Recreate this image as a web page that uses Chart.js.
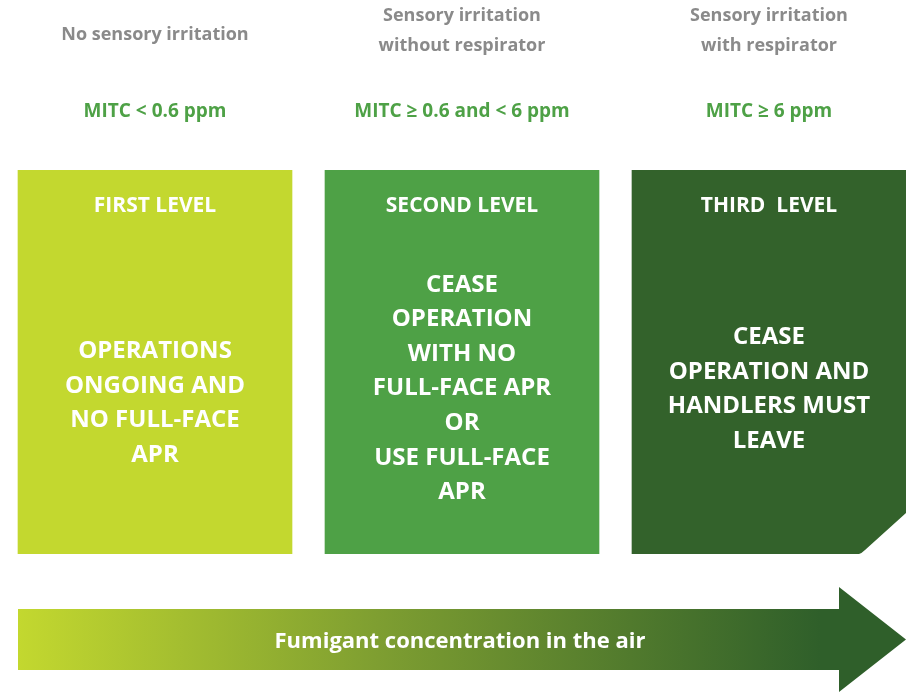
<!DOCTYPE html>
<html>
<head>
<meta charset="utf-8">
<script src="https://cdn.jsdelivr.net/npm/chart.js@4/dist/chart.umd.min.js"></script>
<style>
  html, body { margin: 0; padding: 0; background: #ffffff; overflow: hidden; width: 906px; height: 693px; }
  #wrap { position: relative; width: 906px; height: 693px; overflow: hidden; }
  canvas { display: block; }
</style>
</head>
<body>
<div id="wrap"><canvas id="c" width="924" height="693"></canvas></div>
<script>
// ---- data ----
const levels = ["FIRST LEVEL", "SECOND LEVEL", "THIRD  LEVEL"];
const conditions = [
  ["No sensory irritation"],
  ["Sensory irritation", "without respirator"],
  ["Sensory irritation", "with respirator"]
];
const thresholds = ["MITC < 0.6 ppm", "MITC \u2265 0.6 and < 6 ppm", "MITC \u2265 6 ppm"];
const actions = [
  ["OPERATIONS", "ONGOING AND", "NO FULL-FACE", "APR"],
  ["CEASE", "OPERATION", "WITH NO", "FULL-FACE APR", "OR", "USE FULL-FACE", "APR"],
  ["CEASE", "OPERATION AND", "HANDLERS MUST", "LEAVE"]
];
const levelSpans = [[0, 1], [0, 1], [0, 1]];
const arrowLabel = "Fumigant concentration in the air";

// ---- styles ----
const boxColors = ["#C3D82F", "#4EA146", "#33622B"];
const FONT = "'Open Sans', Lato, sans-serif";
const grayText = "#8A8A8A";
const greenText = "#4EA146";

const infoPlugin = {
  id: "info",
  afterDatasetsDraw(chart) {
    const ctx = chart.ctx;
    const bars = chart.getDatasetMeta(0).data;
    const b = bars[bars.length - 1];
    const right = b.x + b.width / 2;
    const bottom = Math.max(b.base, b.y);
    ctx.save();
    ctx.fillStyle = "#ffffff";
    ctx.beginPath();
    ctx.moveTo(right + 2, bottom - 42);
    ctx.lineTo(right + 2, bottom + 2);
    ctx.lineTo(right - 48, bottom + 2);
    ctx.lineTo(right - 47, bottom);
    ctx.quadraticCurveTo(right - 44, bottom - 1, right - 41, bottom - 4);
    ctx.lineTo(right, bottom - 41);
    ctx.closePath();
    ctx.fill();
    ctx.restore();
  },
  afterDraw(chart) {
    const ctx = chart.ctx;
    const area = chart.chartArea;
    const bars = chart.getDatasetMeta(0).data;
    ctx.save();
    ctx.textAlign = "center";
    ctx.textBaseline = "middle";
    bars.forEach((bar, i) => {
      const cx = bar.x;
      ctx.fillStyle = grayText;
      ctx.font = "bold 18px " + FONT;
      const c = conditions[i];
      if (c.length === 1) {
        ctx.fillText(c[0], cx, 35);
      } else {
        ctx.fillText(c[0], cx, 16);
        ctx.fillText(c[1], cx, 46);
      }
      ctx.fillStyle = greenText;
      ctx.font = "bold 19px " + FONT;
      ctx.fillText(thresholds[i], cx, 112);
      ctx.fillStyle = "#ffffff";
      ctx.font = "bold 21px " + FONT;
      ctx.fillText(levels[i], cx, area.top + 36);
      ctx.font = "bold 24px " + FONT;
      const lines = actions[i];
      const lh = 34.6;
      const mid = [403, 388.5, 389][i];
      const start = mid - (lines.length - 1) * lh / 2;
      lines.forEach((t, k) => ctx.fillText(t, cx, start + k * lh));
    });

    const left = bars[0].x - bars[0].width / 2;
    const last = bars[bars.length - 1];
    const tip = last.x + last.width / 2;
    const bodyTop = 609, bodyBot = 670, headTop = 587, headBot = 692, headX = 839;
    const midY = (bodyTop + bodyBot) / 2;
    const g = ctx.createLinearGradient(left, 0, 820, 0);
    g.addColorStop(0, "#C3D82F");
    g.addColorStop(0.45, "#7E9E31");
    g.addColorStop(1, "#2F5F2A");
    ctx.fillStyle = g;
    ctx.beginPath();
    ctx.moveTo(left, bodyTop);
    ctx.lineTo(headX, bodyTop);
    ctx.lineTo(headX, headTop);
    ctx.lineTo(tip, midY);
    ctx.lineTo(headX, headBot);
    ctx.lineTo(headX, bodyBot);
    ctx.lineTo(left, bodyBot);
    ctx.closePath();
    ctx.fill();
    ctx.fillStyle = "#ffffff";
    ctx.font = "bold 22px " + FONT;
    ctx.fillText(arrowLabel, 460, midY + 2);
    ctx.restore();
  }
};

new Chart(document.getElementById("c"), {
  type: "bar",
  data: {
    labels: levels,
    datasets: [{
      data: levelSpans,
      backgroundColor: boxColors,
      borderWidth: 0,
      barThickness: 274,
      borderSkipped: false
    }]
  },
  options: {
    responsive: false,
    animation: false,
    layout: { padding: { left: 1.5, right: 1.5, top: 170, bottom: 139 } },
    plugins: { legend: { display: false }, tooltip: { enabled: false } },
    scales: {
      x: { display: false, offset: true, grid: { display: false } },
      y: { display: false, min: 0, max: 1 }
    }
  },
  plugins: [infoPlugin]
});
</script>
</body>
</html>
